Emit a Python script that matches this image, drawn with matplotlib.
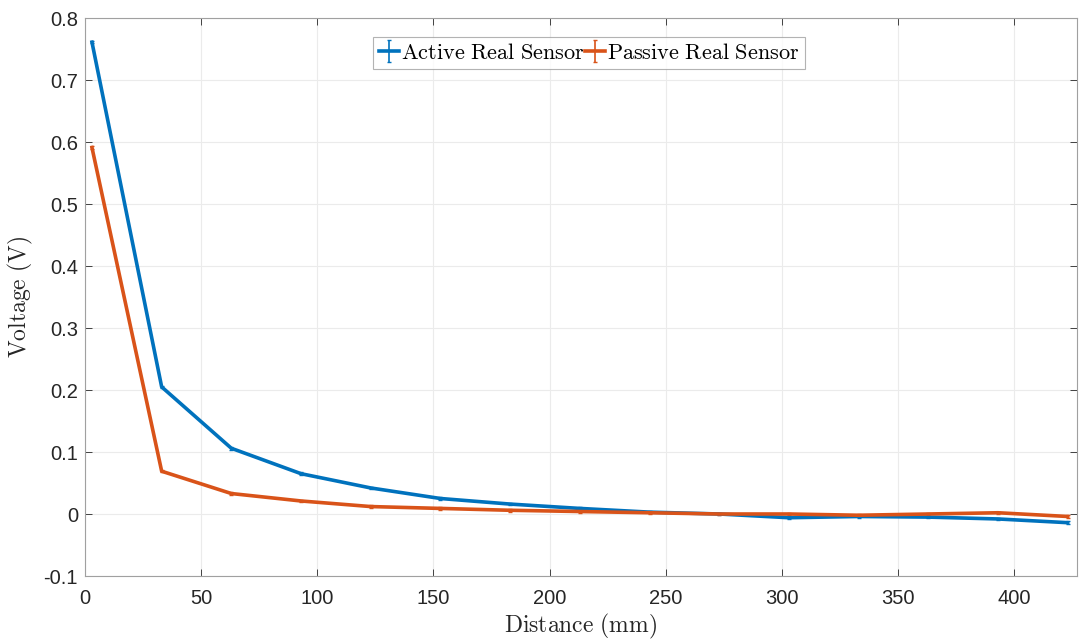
import matplotlib.pyplot as plt

# Distance (mm) and measured voltages (V)
distance = [3, 33, 63, 93, 123, 153, 183, 213, 243, 273, 303, 333, 363, 393, 423]
active_v = [0.761, 0.205, 0.106, 0.065, 0.042, 0.025, 0.016, 0.009, 0.003, 0.0,
            -0.006, -0.004, -0.005, -0.008, -0.014]
passive_v = [0.591, 0.069, 0.033, 0.021, 0.012, 0.009, 0.006, 0.004, 0.002, 0.0,
             0.0, -0.002, 0.0, 0.002, -0.004]
active_err = [0.002] * len(distance)
passive_err = [0.002] * len(distance)

plt.rcParams.update({
    "font.family": ["Liberation Sans", "DejaVu Sans"],
    "mathtext.fontset": "cm",
    "xtick.direction": "in",
    "ytick.direction": "in",
})

fig = plt.figure(figsize=(10.79, 6.39), dpi=100)
ax = fig.add_axes([85 / 1079, 1 - 576 / 639, 992 / 1079, 558 / 639])

blue = "#0072BD"
orange = "#D95319"
ax.errorbar(distance, active_v, yerr=active_err, color=blue, lw=2.6,
            capsize=1.5, elinewidth=1.2, label=r"$\mathrm{Active\ Real\ Sensor}$")
ax.errorbar(distance, passive_v, yerr=passive_err, color=orange, lw=2.6,
            capsize=1.5, elinewidth=1.2, label=r"$\mathrm{Passive\ Real\ Sensor}$")

ax.set_xlim(0, 427)
ax.set_ylim(-0.1, 0.8)
ax.set_xticks(range(0, 401, 50))
ax.set_yticks([-0.1, 0, 0.1, 0.2, 0.3, 0.4, 0.5, 0.6, 0.7, 0.8])
ax.set_yticklabels(["-0.1", "0", "0.1", "0.2", "0.3", "0.4", "0.5", "0.6", "0.7", "0.8"])
ax.tick_params(labelsize=14.5, colors="#262626", length=5, width=0.6, top=True, right=True)
ax.tick_params(axis="x", pad=9)
ax.tick_params(axis="y", pad=5)

ax.grid(True, color="#ebebeb", lw=0.8)
for s in ax.spines.values():
    s.set_color("#a0a0a0")
    s.set_linewidth(0.8)

ax.set_xlabel(r"$\mathrm{Distance\ (mm)}$", fontsize=17, color="#262626", labelpad=3)
ax.set_ylabel(r"$\mathrm{Voltage\ (V)}$", fontsize=17, color="#262626", labelpad=6)

leg = ax.legend(loc="upper center", bbox_to_anchor=(0.508, 0.966), ncol=2,
                fontsize=16, frameon=True, fancybox=False, handlelength=0.9,
                handletextpad=0.1, columnspacing=0.0, borderpad=0.25,
                borderaxespad=0)
leg.get_frame().set_edgecolor("#a0a0a0")
leg.get_frame().set_linewidth(0.8)

fig.savefig("out.png", dpi=100, facecolor="white")
